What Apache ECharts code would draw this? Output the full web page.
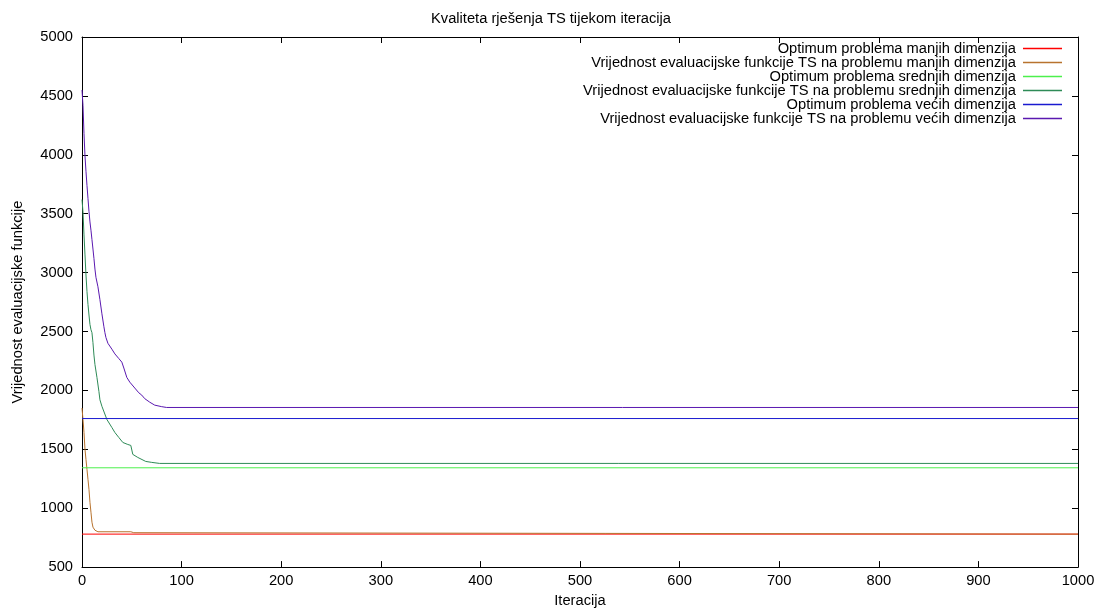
<!DOCTYPE html>
<html>
<head>
<meta charset="utf-8">
<script src="https://cdn.jsdelivr.net/npm/echarts@6/dist/echarts.min.js"></script>
<style>
  html, body { margin: 0; padding: 0; background: #fff; }
  #main { width: 1102px; height: 613px; }
</style>
</head>
<body>
<div id="main"></div>
<script>
// iteracije na kojima su ocitane vrijednosti (ostatak je ravan do 1000)
const seriesNames = [
  'Optimum problema manjih dimenzija',
  'Vrijednost evaluacijske funkcije TS na problemu manjih dimenzija',
  'Optimum problema srednjih dimenzija',
  'Vrijednost evaluacijske funkcije TS na problemu srednjih dimenzija',
  'Optimum problema većih dimenzija',
  'Vrijednost evaluacijske funkcije TS na problemu većih dimenzija'
]
const colors = ['#ff0000', '#b8732e', '#4cf04c', '#2e8b57', '#1a1ad0', '#5a18b0']

const optimumIter = [0, 1000]
const optManji = [780, 780]
const optSrednji = [1343, 1343]
const optVeci = [1761, 1761]

const manjiIter = [0, 1, 2, 3, 4, 5, 6, 7, 8, 9, 10, 11, 13, 16, 49, 52, 54, 1000]
const manjiVal = [1850, 1753, 1643, 1499, 1414, 1330, 1245, 1160, 1050, 966, 881, 839, 813, 800, 800, 792, 780, 780]

const srednjiIter = [0, 1, 2, 3, 4, 5, 6, 7, 8, 9, 10, 11, 12, 13, 15, 17, 18, 20, 25, 30, 33, 37, 41, 46, 49, 51, 56, 64, 70, 78, 1000]
const srednjiVal = [3620, 3514, 3320, 3150, 2980, 2840, 2730, 2640, 2560, 2515, 2490, 2405, 2300, 2220, 2110, 1990, 1920, 1865, 1753, 1685, 1643, 1600, 1558, 1541, 1533, 1457, 1431, 1397, 1389, 1380, 1380]

const veciIter = [0, 1, 2, 3, 4, 5, 6, 7, 8, 9, 10, 11, 12, 13, 14, 16, 18, 20, 22, 23, 24, 26, 30, 33, 37, 40, 42, 45, 48, 53, 57, 60, 63, 68, 73, 80, 85, 1000]
const veciVal = [4550, 4420, 4180, 3990, 3860, 3740, 3630, 3520, 3430, 3360, 3280, 3200, 3120, 3030, 2960, 2880, 2770, 2650, 2540, 2490, 2450, 2400, 2350, 2310, 2270, 2240, 2190, 2110, 2070, 2020, 1980, 1960, 1930, 1900, 1875, 1862, 1855, 1855]

const xTicks = [0, 100, 200, 300, 400, 500, 600, 700, 800, 900, 1000]
const yTicks = [500, 1000, 1500, 2000, 2500, 3000, 3500, 4000, 4500, 5000]

function pairs (xs, ys) {
  return xs.map((x, i) => [x, ys[i]])
}

const font = 'Liberation Sans, Arial, sans-serif'
const fs = 14.7
const myChart = echarts.init(document.getElementById('main'))

const allData = [
  pairs(optimumIter, optManji),
  pairs(manjiIter, manjiVal),
  pairs(optimumIter, optSrednji),
  pairs(srednjiIter, srednjiVal),
  pairs(optimumIter, optVeci),
  pairs(veciIter, veciVal)
]

let series = seriesNames.map((name, i) => ({
  name: name,
  type: 'line',
  data: allData[i],
  symbol: 'none',
  animation: false,
  lineStyle: { color: colors[i], width: 1 },
  itemStyle: { color: colors[i] }
}))

// gnuplot legenda: tekst poravnat desno, linija desno od teksta
let legends = seriesNames.map((name, i) => ({
  data: [name],
  right: 40,
  top: 41 + i * 14,
  align: 'right',
  icon: 'rect',
  itemWidth: 39,
  itemHeight: 1.5,
  padding: 0,
  selectedMode: false,
  textStyle: { fontFamily: font, fontSize: fs, color: '#000', padding: [0, 2, 0, 0] }
}))

function axisCommon (show) {
  return {
    axisLine: { show: true, onZero: false, lineStyle: { color: '#000', width: 1 } },
    axisTick: { show: true, inside: true, length: 6, lineStyle: { color: '#000' } },
    axisLabel: { show: show, fontFamily: font, fontSize: fs, color: '#000', formatter: v => String(v) },
    splitLine: { show: false }
  }
}

option = {
  backgroundColor: '#fff',
  animation: false,
  title: {
    text: 'Kvaliteta rješenja TS tijekom iteracija',
    left: 'center',
    top: 6,
    textStyle: { fontFamily: font, fontSize: fs, fontWeight: 'normal', color: '#000' }
  },
  legend: legends,
  grid: { left: 82, right: 24, top: 37, bottom: 45 },
  xAxis: [
    Object.assign(axisCommon(true), {
      type: 'value', position: 'bottom', min: 0, max: 1000, interval: 100,
      name: 'Iteracija', nameLocation: 'middle', nameGap: 25,
      nameTextStyle: { fontFamily: font, fontSize: fs, color: '#000' }
    }),
    Object.assign(axisCommon(false), {
      type: 'value', position: 'top', min: 0, max: 1000, interval: 100
    })
  ],
  yAxis: [
    Object.assign(axisCommon(true), {
      type: 'value', position: 'left', min: 500, max: 5000, interval: 500,
      name: 'Vrijednost evaluacijske funkcije', nameLocation: 'middle', nameGap: 57,
      nameTextStyle: { fontFamily: font, fontSize: fs, color: '#000' }
    }),
    Object.assign(axisCommon(false), {
      type: 'value', position: 'right', min: 500, max: 5000, interval: 500
    })
  ],
  series: series
}
option.xAxis[0].axisLabel.margin = 6
option.yAxis[0].axisLabel.margin = 9

myChart.setOption(option)
</script>
</body>
</html>
